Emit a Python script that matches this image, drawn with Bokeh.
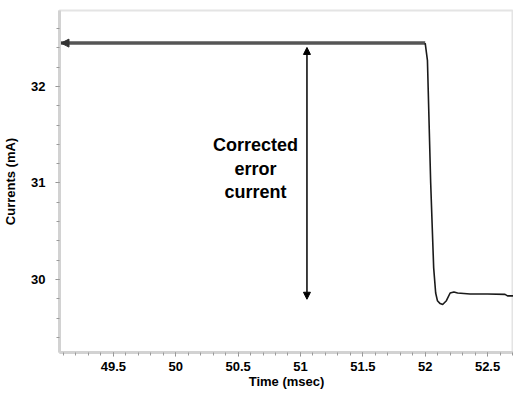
from bokeh.plotting import figure
from bokeh.models import Range1d, SingleIntervalTicker, Arrow, NormalHead, VeeHead, Label
from bokeh.embed import file_html
from bokeh.resources import INLINE
from bokeh.core.properties import value

# ---- data ----
time_ms = [49.07, 52.00, 52.018, 52.044, 52.068, 52.084, 52.098, 52.12, 52.14,
           52.17, 52.20, 52.23, 52.26, 52.36, 52.50, 52.64, 52.66, 52.71]
current_mA = [32.45, 32.45, 32.27, 31.00, 30.12, 29.86, 29.78, 29.75, 29.74,
              29.78, 29.86, 29.87, 29.86, 29.85, 29.85, 29.845, 29.83, 29.83]
flat_count = 2  # first points form the constant (flat) level

err_arrow_t = 51.052
err_arrow_top = 32.405
err_arrow_bottom = 29.795
annot_lines = ["Corrected", "error", "current"]
annot_t = 50.64
annot_y = [31.39, 31.15, 30.91]

FONT = "Liberation Sans"

p = figure(width=513, height=394, output_backend="svg", toolbar_location=None,
           x_range=Range1d(49.068, 52.708), y_range=Range1d(29.243, 32.788),
           min_border_left=58, min_border_right=0, min_border_top=10,
           min_border_bottom=42)
p.background_fill_color = "white"
p.border_fill_color = "white"
p.outline_line_color = "#e4e4e4"
p.outline_line_width = 2
p.xgrid.visible = False
p.ygrid.visible = False

p.xaxis.ticker = SingleIntervalTicker(interval=0.5, num_minor_ticks=5)
p.yaxis.ticker = SingleIntervalTicker(interval=1, num_minor_ticks=5)
for ax in (p.xaxis, p.yaxis):
    ax.axis_line_color = "#d2d2d2"
    ax.axis_line_width = 3
    ax.major_tick_line_color = "#8a8a8a"
    ax.minor_tick_line_color = "#9a9a9a"
    ax.major_tick_out = 4
    ax.major_tick_in = 0
    ax.minor_tick_out = 3
    ax.minor_tick_in = 0
    ax.major_label_text_font = FONT
    ax.major_label_text_font_style = "bold"
    ax.major_label_text_font_size = "13px"
    ax.major_label_text_color = "black"
    ax.axis_label_text_font = FONT
    ax.axis_label_text_font_style = "bold"
    ax.axis_label_text_font_size = "13px"
    ax.axis_label_text_color = "black"

p.xaxis.axis_label = "Time (msec)"
p.yaxis.axis_label = "Currents (mA)"
p.xaxis.major_label_standoff = 5
p.xaxis.axis_label_standoff = 0
p.yaxis.major_label_standoff = 10
p.yaxis.axis_label_standoff = 10

# curve: flat part thick grey, transient thin black
p.line(time_ms[:flat_count], current_mA[:flat_count], line_color="#555555", line_width=3.5)
p.line(time_ms[flat_count - 1:], current_mA[flat_count - 1:], line_color="#1a1a1a", line_width=1.6)

# left arrow head on the flat line
p.add_layout(Arrow(end=NormalHead(size=8, fill_color="#333333", line_color="#333333"),
                   x_start=time_ms[0] + 0.15, y_start=current_mA[0],
                   x_end=time_ms[0] + 0.01, y_end=current_mA[0],
                   line_alpha=0))

# vertical double arrow
p.add_layout(Arrow(start=NormalHead(size=7, fill_color="black", line_color="black"),
                   end=NormalHead(size=7, fill_color="black", line_color="black"),
                   x_start=err_arrow_t, y_start=err_arrow_bottom,
                   x_end=err_arrow_t, y_end=err_arrow_top,
                   line_color="black", line_width=1.5))

p.text(x=[annot_t] * len(annot_lines), y=annot_y, text=annot_lines,
       text_align="center", text_baseline="middle",
       text_font=value(FONT), text_font_style="bold", text_font_size="18px",
       text_color="black")

open("out.html", "w").write(file_html(p, INLINE))
